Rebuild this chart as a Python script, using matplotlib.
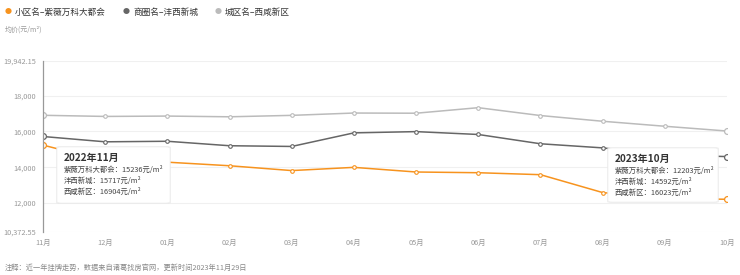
import matplotlib
matplotlib.use("Agg")
from matplotlib import pyplot as plt
from matplotlib.patches import FancyBboxPatch
from matplotlib.ticker import FixedLocator, FuncFormatter

plt.rcParams['font.family'] = ['Noto Sans CJK SC', 'DejaVu Sans']

# data
months = ["11月", "12月", "01月", "02月", "03月", "04月", "05月", "06月", "07月", "08月", "09月", "10月"]
community = [15236, 14350, 14280, 14080, 13810, 13990, 13730, 13690, 13580, 12580, 12260, 12203]
business = [15717, 15420, 15450, 15200, 15160, 15920, 15990, 15830, 15310, 15080, 14700, 14592]
district = [16904, 16840, 16860, 16820, 16900, 17030, 17020, 17330, 16890, 16570, 16290, 16023]
names = ["小区名–紫薇万科大都会", "商圈名–沣西新城", "城区名–西咸新区"]
short_names = ["紫薇万科大都会", "沣西新城", "西咸新区"]
colors = ["#f7931e", "#666666", "#bbbbbb"]
y_min, y_max = 10372.55, 19942.15
y_ticks = [10372.55, 12000, 14000, 16000, 18000, 19942.15]

W, H = 740, 275


def px(x, y):
    return x / W, 1 - y / H


fig = plt.figure(figsize=(7.4, 2.75), dpi=100)
ax = fig.add_axes([43 / W, 1 - 232 / H, (727 - 43) / W, (232 - 61) / H])

x = list(range(len(months)))
series = [community, business, district]
for vals, c in zip(series, colors):
    ax.plot(x, vals, color=c, lw=1.1, zorder=3)
    ax.plot(x[1:-1], vals[1:-1], 'o', ms=2.6, mfc='white', mec=c, mew=0.8, zorder=4)
    ax.plot([x[0], x[-1]], [vals[0], vals[-1]], 'o', ms=4.2, mfc='white', mec=c, mew=0.9, zorder=4)

ax.set_xlim(0, len(months) - 1)
ax.set_ylim(y_min, y_max)
ax.yaxis.set_major_locator(FixedLocator(y_ticks))
ax.yaxis.set_major_formatter(FuncFormatter(lambda v, p: f"{v:,.2f}" if v % 1 else f"{v:,.0f}"))
ax.set_xticks(x)
ax.set_xticklabels(months)
ax.tick_params(axis='both', length=0, labelsize=5.3, colors='#999999')
ax.tick_params(axis='x', pad=5)
ax.tick_params(axis='y', pad=5)
ax.grid(axis='y', color='#f0f0f0', lw=0.8, zorder=0)
for s in ['top', 'right', 'bottom']:
    ax.spines[s].set_visible(False)
ax.spines['left'].set_color('#999999')
ax.spines['left'].set_linewidth(0.9)
ax.spines['left'].set_zorder(5)

# legend
legend_x = [8, 126, 218]
for lx, name, c in zip(legend_x, names, colors):
    fig.text(*px(lx, 12.5), "●", color=c, fontsize=5, ha='center', va='center')
    fig.text(*px(lx + 7, 12.5), name, color='#333333', fontsize=6.2, ha='left', va='center')

fig.text(*px(5, 30), "均价(元/m²)", color='#999999', fontsize=5, ha='left', va='center')
fig.text(*px(5, 268), "注释：近一年挂牌走势，数据来自诸葛找房官网，更新时间2023年11月29日",
         color='#888888', fontsize=5.2, ha='left', va='center')


def tooltip(x0, y0, w, h, title, idx):
    shadow = FancyBboxPatch(px(x0 - 1, y0 + h + 1), (w + 2) / W, (h + 2) / H,
                            boxstyle="round,pad=0,rounding_size=0.006",
                            transform=fig.transFigure, fc='#e6e6e6', ec='none', alpha=0.6, zorder=6)
    box = FancyBboxPatch(px(x0, y0 + h), w / W, h / H,
                         boxstyle="round,pad=0,rounding_size=0.005",
                         transform=fig.transFigure, fc='white', ec='#eeeeee', lw=0.5, zorder=7)
    fig.add_artist(shadow)
    fig.add_artist(box)
    fig.text(*px(x0 + 7, y0 + 11), title, fontsize=7.2, fontweight='bold', color='#333333',
             ha='left', va='center', zorder=8)
    for k, (n, vals) in enumerate(zip(short_names, series)):
        fig.text(*px(x0 + 7, y0 + 23 + 11 * k), f"{n}：{vals[idx]}元/m²", fontsize=5.3,
                 color='#444444', ha='left', va='center', zorder=8)


tooltip(57, 147, 113, 56, "2022年11月", 0)
tooltip(608, 148, 110, 54, "2023年10月", len(months) - 1)

plt.savefig("out.png", dpi=100)
